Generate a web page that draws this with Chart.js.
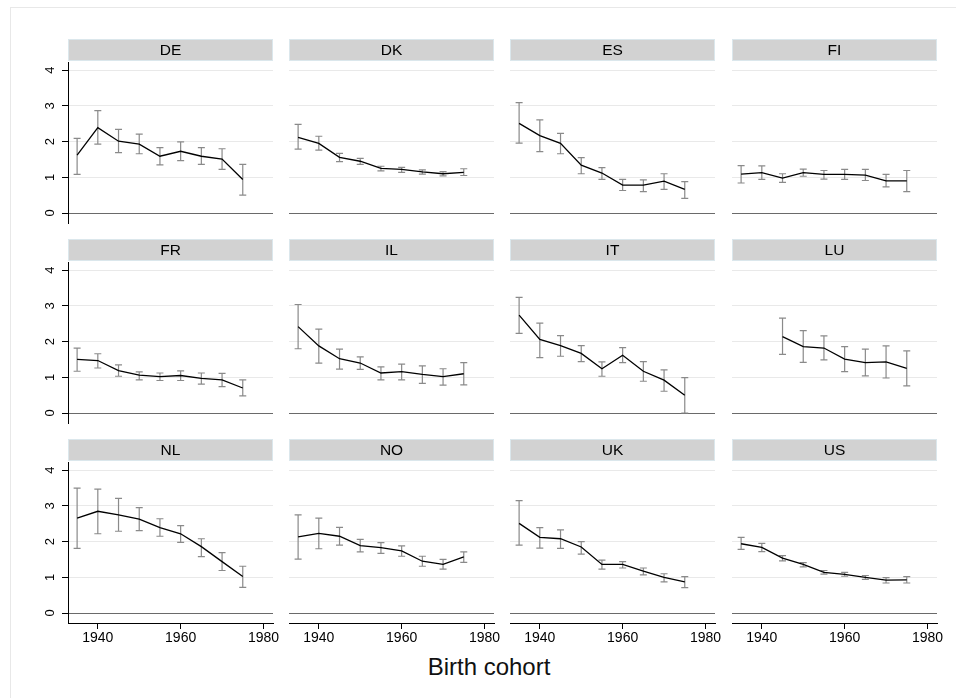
<!DOCTYPE html>
<html>
<head>
<meta charset="utf-8">
<script src="https://cdn.jsdelivr.net/npm/chart.js@4"></script>
<style>
  body { margin: 0; background: #fff; width: 956px; height: 698px; overflow: hidden; position: relative;
         font-family: 'Liberation Sans', Arial, sans-serif; }
  #frame { position: absolute; left: 10px; top: 7px; width: 990px; height: 720px; border: 1px solid #e8e8e8; }
  canvas { position: absolute; }
  #xtitle { position: absolute; left: 389px; width: 200px; top: 653px; line-height: 28px;
            text-align: center; font-size: 24px; color: #111; }
</style>
</head>
<body>
<div id="frame"></div>
<div id="xtitle">Birth cohort</div>
<script>
// data
const countries = ['DE', 'DK', 'ES', 'FI', 'FR', 'IL', 'IT', 'LU', 'NL', 'NO', 'UK', 'US'];
const years = [1935, 1940, 1945, 1950, 1955, 1960, 1965, 1970, 1975];
const xTicks = [1940, 1960, 1980];
const yTicks = [0, 1, 2, 3, 4];

const deMean = [1.62, 2.39, 2.01, 1.93, 1.59, 1.73, 1.59, 1.51, 0.94];
const deLo   = [1.08, 1.93, 1.69, 1.66, 1.35, 1.47, 1.36, 1.22, 0.50];
const deHi   = [2.09, 2.87, 2.34, 2.21, 1.83, 1.99, 1.83, 1.80, 1.36];

const dkMean = [2.12, 1.95, 1.56, 1.45, 1.25, 1.22, 1.15, 1.10, 1.14];
const dkLo   = [1.79, 1.76, 1.44, 1.36, 1.18, 1.14, 1.09, 1.04, 1.05];
const dkHi   = [2.48, 2.15, 1.67, 1.53, 1.31, 1.28, 1.21, 1.16, 1.24];

const esMean = [2.51, 2.17, 1.95, 1.34, 1.12, 0.78, 0.78, 0.89, 0.66];
const esLo   = [1.96, 1.72, 1.66, 1.10, 0.94, 0.63, 0.60, 0.66, 0.41];
const esHi   = [3.09, 2.61, 2.23, 1.55, 1.27, 0.94, 0.93, 1.10, 0.88];

const fiMean = [1.09, 1.13, 0.98, 1.13, 1.08, 1.08, 1.06, 0.90, 0.90];
const fiLo   = [0.84, 0.94, 0.86, 1.03, 0.95, 0.94, 0.91, 0.73, 0.60];
const fiHi   = [1.33, 1.32, 1.10, 1.23, 1.19, 1.22, 1.22, 1.08, 1.19];

const frMean = [1.50, 1.47, 1.19, 1.06, 1.02, 1.05, 0.97, 0.93, 0.70];
const frLo   = [1.17, 1.26, 1.03, 0.93, 0.91, 0.91, 0.81, 0.74, 0.48];
const frHi   = [1.82, 1.66, 1.35, 1.15, 1.12, 1.18, 1.12, 1.11, 0.93];

const ilMean = [2.42, 1.88, 1.52, 1.40, 1.12, 1.16, 1.08, 1.02, 1.10];
const ilLo   = [1.80, 1.40, 1.23, 1.22, 0.93, 0.93, 0.83, 0.78, 0.79];
const ilHi   = [3.04, 2.35, 1.79, 1.57, 1.29, 1.37, 1.32, 1.24, 1.41];

const itMean = [2.74, 2.06, 1.89, 1.67, 1.24, 1.62, 1.17, 0.92, 0.50];
const itLo   = [2.23, 1.55, 1.59, 1.44, 1.03, 1.41, 0.89, 0.61, 0.00];
const itHi   = [3.24, 2.52, 2.17, 1.89, 1.43, 1.83, 1.44, 1.21, 0.99];

const luMean = [null, null, 2.14, 1.86, 1.82, 1.51, 1.41, 1.43, 1.25];
const luLo   = [null, null, 1.64, 1.42, 1.49, 1.16, 1.04, 0.98, 0.76];
const luHi   = [null, null, 2.66, 2.31, 2.16, 1.86, 1.79, 1.88, 1.74];

const nlMean = [2.66, 2.85, 2.75, 2.63, 2.39, 2.22, 1.86, 1.44, 1.02];
const nlLo   = [1.81, 2.22, 2.29, 2.31, 2.15, 1.98, 1.58, 1.19, 0.72];
const nlHi   = [3.50, 3.47, 3.21, 2.95, 2.64, 2.45, 2.08, 1.69, 1.31];

const noMean = [2.13, 2.23, 2.15, 1.89, 1.83, 1.74, 1.45, 1.36, 1.57];
const noLo   = [1.51, 1.80, 1.90, 1.71, 1.67, 1.59, 1.31, 1.23, 1.42];
const noHi   = [2.75, 2.66, 2.40, 2.06, 1.97, 1.88, 1.59, 1.50, 1.71];

const ukMean = [2.51, 2.12, 2.08, 1.85, 1.36, 1.36, 1.17, 1.00, 0.87];
const ukLo   = [1.90, 1.82, 1.81, 1.65, 1.23, 1.26, 1.07, 0.87, 0.71];
const ukHi   = [3.15, 2.39, 2.33, 2.00, 1.48, 1.44, 1.26, 1.10, 1.02];

const usMean = [1.94, 1.84, 1.54, 1.36, 1.14, 1.08, 1.00, 0.92, 0.93];
const usLo   = [1.78, 1.72, 1.46, 1.29, 1.09, 1.03, 0.94, 0.84, 0.84];
const usHi   = [2.12, 1.95, 1.61, 1.41, 1.19, 1.14, 1.05, 0.99, 1.02];

const series = {
  DE: [deMean, deLo, deHi], DK: [dkMean, dkLo, dkHi], ES: [esMean, esLo, esHi], FI: [fiMean, fiLo, fiHi],
  FR: [frMean, frLo, frHi], IL: [ilMean, ilLo, ilHi], IT: [itMean, itLo, itHi], LU: [luMean, luLo, luHi],
  NL: [nlMean, nlLo, nlHi], NO: [noMean, noLo, noHi], UK: [ukMean, ukLo, ukHi], US: [usMean, usLo, usHi]
};

// layout
const X_MIN = 1932.8, X_MAX = 1982.3;
const Y_MIN = -0.28, Y_MAX = 4.23;
const COL_LEFT = [68, 289, 510, 732];
const ROW_TOP = [62, 262, 462];
const PLOT_W = 205, PLOT_H = 161;
const AXIS_W = 48, HEAD = 24, RIGHT_PAD = 14, XAXIS_H = 32;
const FONT = "'Liberation Sans', Arial, sans-serif";

// grey strip with the country code above each panel
const strip = {
  id: 'strip',
  beforeDraw(chart) {
    const { ctx, chartArea: a } = chart;
    ctx.save();
    ctx.fillStyle = '#d2d2d2';
    ctx.fillRect(a.left, a.top - 23, a.right - a.left, 22);
    ctx.strokeStyle = '#dbe7ec';
    ctx.lineWidth = 1;
    ctx.strokeRect(a.left + 0.5, a.top - 22.5, a.right - a.left - 1, 21);
    ctx.fillStyle = '#000';
    ctx.font = '15.5px ' + FONT;
    ctx.textAlign = 'center';
    ctx.textBaseline = 'middle';
    ctx.fillText(chart.data.datasets[0].label, (a.left + a.right) / 2, a.top - 11.5);
    ctx.restore();
  }
};

// capped error bars, drawn under the line
const errorBars = {
  id: 'errorBars',
  beforeDatasetsDraw(chart) {
    const { ctx, scales: { x, y } } = chart;
    const ds = chart.data.datasets[0];
    ctx.save();
    ctx.strokeStyle = '#8a8a8a';
    ctx.lineWidth = 1.2;
    years.forEach((yr, i) => {
      if (ds.lo[i] == null) return;
      const px = x.getPixelForValue(yr);
      const top = y.getPixelForValue(ds.hi[i]);
      const bot = y.getPixelForValue(ds.lo[i]);
      ctx.beginPath();
      ctx.moveTo(px, top); ctx.lineTo(px, bot);
      ctx.moveTo(px - 3.5, top); ctx.lineTo(px + 3.5, top);
      ctx.moveTo(px - 3.5, bot); ctx.lineTo(px + 3.5, bot);
      ctx.stroke();
    });
    ctx.restore();
  }
};

countries.forEach((code, k) => {
  const r = Math.floor(k / 4), c = k % 4;
  const isLeft = c === 0, isBottom = r === 2;
  const [mean, lo, hi] = series[code];

  const cv = document.createElement('canvas');
  cv.width = AXIS_W + PLOT_W + RIGHT_PAD;
  cv.height = HEAD + PLOT_H + (isBottom ? XAXIS_H : 2);
  cv.style.left = (COL_LEFT[c] - AXIS_W) + 'px';
  cv.style.top = (ROW_TOP[r] - HEAD) + 'px';
  document.body.appendChild(cv);

  new Chart(cv, {
    type: 'line',
    data: {
      datasets: [{
        label: code,
        data: years.map((yr, i) => ({ x: yr, y: mean[i] })),
        lo, hi,
        borderColor: '#000',
        borderWidth: 1.3,
        pointRadius: 0,
        tension: 0,
        spanGaps: false
      }]
    },
    options: {
      responsive: false,
      animation: false,
      layout: { padding: { top: HEAD, right: RIGHT_PAD, left: 0, bottom: 0 } },
      plugins: { legend: { display: false }, tooltip: { enabled: false } },
      scales: {
        x: {
          type: 'linear', min: X_MIN, max: X_MAX,
          afterBuildTicks: s => { s.ticks = xTicks.map(v => ({ value: v })); },
          afterFit: s => { s.height = isBottom ? XAXIS_H : 2; s.paddingLeft = 0; s.paddingRight = 0; },
          ticks: { display: isBottom, padding: 1, color: '#000', font: { family: FONT, size: 14 },
                   maxRotation: 0, autoSkip: false, callback: v => String(v) },
          grid: { display: isBottom, drawOnChartArea: false, drawTicks: isBottom, tickLength: 6, color: '#000' },
          border: { display: isBottom, color: '#000', width: 1 }
        },
        y: {
          min: Y_MIN, max: Y_MAX,
          afterBuildTicks: s => { s.ticks = yTicks.map(v => ({ value: v })); },
          afterFit: s => { s.width = AXIS_W; s.paddingTop = 0; s.paddingBottom = 0; },
          ticks: { display: isLeft, padding: 8, color: '#000', font: { family: FONT, size: 13 },
                   minRotation: 90, maxRotation: 90, crossAlign: 'center', callback: v => String(v) },
          grid: { color: ctx => (ctx.tick && ctx.tick.value === 0 ? '#6a6a6a' : '#e9e9e9'),
                  lineWidth: 1, drawTicks: isLeft, tickLength: 6, tickColor: '#000' },
          border: { display: isLeft, color: '#000', width: 1 }
        }
      }
    },
    plugins: [strip, errorBars]
  });
});
</script>
</body>
</html>
